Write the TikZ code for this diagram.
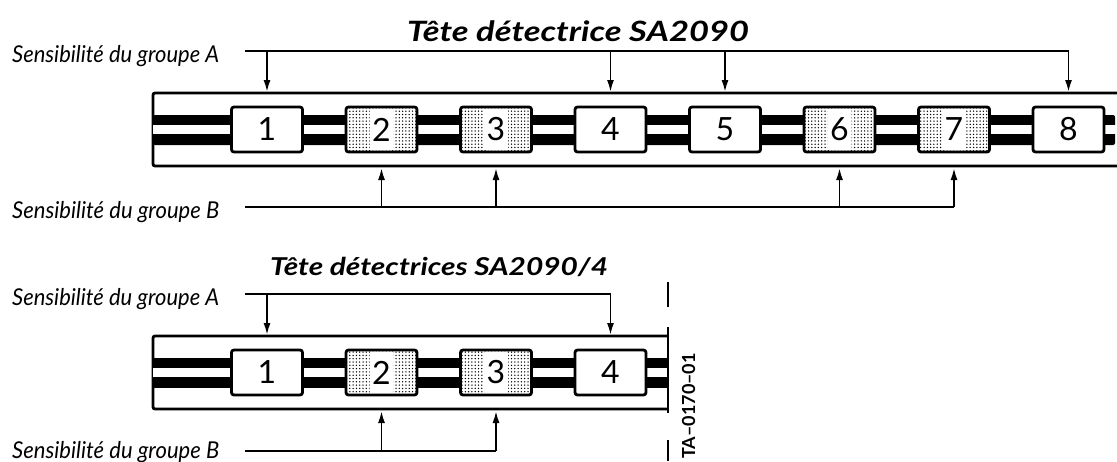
\documentclass[tikz,border=0pt]{standalone}
\usepackage{fontspec}
\setmainfont{Lato}
\usetikzlibrary{patterns,arrows.meta}

\pgfdeclarepatternformonly{points}{\pgfqpoint{-1pt}{-1pt}}{\pgfqpoint{1pt}{1pt}}{\pgfqpoint{3.3pt}{3.3pt}}%
  {\pgfpathcircle{\pgfqpoint{0pt}{0pt}}{0.75pt}\pgfusepath{fill}}

\newcommand{\largeur}[2]{\resizebox{#1}{\height}{#2}}

\tikzset{
  cadre/.style={draw, line width=2.8pt, rounded corners=2.5pt, minimum width=71pt, minimum height=45pt, inner sep=0pt, font=\fontsize{32}{32}\selectfont},
  case/.style={cadre, fill=white},
  casepoint/.style={cadre, preaction={fill=white}, pattern=points,
    path picture={\fill[white] ([shift={(-12,-21)}]path picture bounding box.center) rectangle ([shift={(12,21)}]path picture bounding box.center);}},
  bande/.style={line width=2.8pt, rounded corners=2pt},
  sig/.style={line width=1.8pt},
  fleche/.style={sig, -{Latex[length=12pt,width=7pt]}},
  legende/.style={font=\fontsize{23.2}{23.2}\selectfont\itshape, anchor=base west, inner sep=0pt},
  titre/.style={font=\bfseries\itshape, anchor=base, inner sep=0pt},
}

\begin{document}
\begin{tikzpicture}[x=1pt,y=-1pt]
  \useasboundingbox (0,0) rectangle (1117,461);

  %SA2090
  \node[titre] (t1) at (578,41) {\largeur{342pt}{\fontsize{28}{28}\selectfont Tête détectrice SA2090}};
  \draw[bande] (1117,93) -- (153,93) -- (153,166) -- (1117,166);
  \fill[rounded corners=2pt] (153,115) rectangle (1115,145);
  \fill[white] (153,125) rectangle (1117,134);
  \foreach \i/\x/\s in {1/267/case,2/381.5/casepoint,3/496/casepoint,4/610.5/case,
                        5/725/case,6/839.5/casepoint,7/954/casepoint,8/1068.5/case}
    \node[\s] (b\i) at (\x,129.5) {\i};

  %Groupe A
  \node[legende] (lA1) at (12,62) {\largeur{207pt}{Sensibilité du groupe A}};
  \coordinate (gA1) at (245,51);
  \coordinate (pA1) at (0,92);
  \draw[sig] (gA1) -- (gA1 -| b8);
  \foreach \i in {1,4,5,8}
    \draw[fleche] (gA1 -| b\i) -- (pA1 -| b\i);

  %Groupe B
  \node[legende] (lB1) at (12,218) {\largeur{207pt}{Sensibilité du groupe B}};
  \coordinate (gB1) at (245,207);
  \coordinate (pB1) at (0,168);
  \draw[sig] (gB1) -- (gB1 -| b7);
  \foreach \i in {2,3,6,7}
    \draw[fleche] (gB1 -| b\i) -- (pB1 -| b\i);

  %SA2090/4
  \node[titre] (t2) at (439,275) {\largeur{338pt}{\fontsize{24.6}{24.6}\selectfont Tête détectrices SA2090/4}};
  \draw[bande] (668,336) -- (153,336) -- (153,409) -- (668,409);
  \fill (153,358) rectangle (668,388);
  \fill[white] (153,368) rectangle (668,377);
  \foreach \i/\x/\s in {1/267/case,2/381.5/casepoint,3/496/casepoint,4/610.5/case}
    \node[\s] (c\i) at (\x,372.5) {\i};

  \node[legende] (lA2) at (12,305) {\largeur{207pt}{Sensibilité du groupe A}};
  \coordinate (gA2) at (245,294);
  \coordinate (pA2) at (0,335);
  \draw[sig] (gA2) -- (gA2 -| c4);
  \foreach \i in {1,4}
    \draw[fleche] (gA2 -| c\i) -- (pA2 -| c\i);

  \node[legende] (lB2) at (12,458) {\largeur{207pt}{Sensibilité du groupe B}};
  \coordinate (gB2) at (245,451);
  \coordinate (pB2) at (0,411);
  \draw[sig] (gB2) -- (gB2 -| c3);
  \foreach \i in {2,3}
    \draw[fleche] (gB2 -| c\i) -- (pB2 -| c\i);

  %Coupure
  \draw[line width=2pt] (668,282) -- (668,307) (668,327) -- (668,413) (668,440) -- (668,461);
  \node[font=\fontsize{18}{18}\selectfont\bfseries, rotate=90, inner sep=0pt] (ref) at (688.5,406) {TA–0170–01};
\end{tikzpicture}
\end{document}
